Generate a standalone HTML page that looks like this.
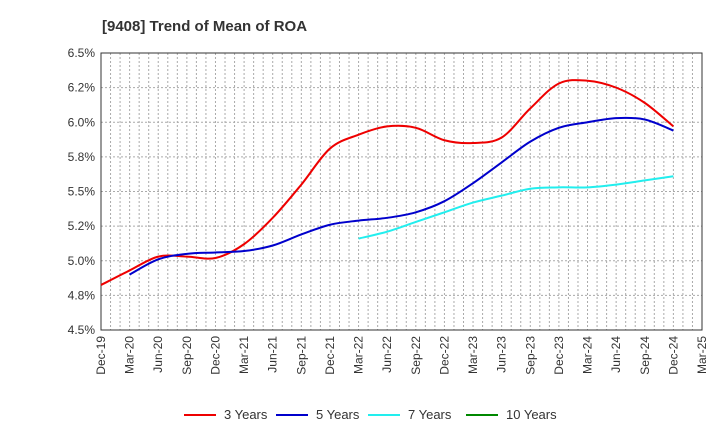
<!DOCTYPE html>
<html><head><meta charset="utf-8"><style>
body{margin:0;background:#fff;font-family:"Liberation Sans",sans-serif;}
</style></head><body>
<svg width="720" height="440" xmlns="http://www.w3.org/2000/svg" font-family="Liberation Sans, sans-serif">
<text x="102" y="31" font-size="15" font-weight="bold" fill="#333">[9408]  Trend of Mean of ROA</text>
<g id="grid"></g>
<g id="axes"></g>
<g id="series"></g>
<g id="legend"></g>
</svg>
<script>
const xLabels=["Dec-19","Mar-20","Jun-20","Sep-20","Dec-20","Mar-21","Jun-21","Sep-21","Dec-21","Mar-22","Jun-22","Sep-22","Dec-22","Mar-23","Jun-23","Sep-23","Dec-23","Mar-24","Jun-24","Sep-24","Dec-24","Mar-25"];
const yTicks=[4.5,4.75,5.0,5.25,5.5,5.75,6.0,6.25,6.5];
const yTickLabels=["4.5%","4.8%","5.0%","5.2%","5.5%","5.8%","6.0%","6.2%","6.5%"];
const seriesNames=["3 Years","5 Years","7 Years","10 Years"];
const seriesColors=["#e00","#00c","#2ee","#080"];
const y3=[4.825,4.93,5.03,5.03,5.02,5.12,5.31,5.55,5.81,5.91,5.97,5.96,5.87,5.85,5.89,6.10,6.28,6.30,6.25,6.14,5.97];
const y5=[null,4.90,5.01,5.05,5.06,5.07,5.11,5.19,5.26,5.29,5.31,5.35,5.43,5.56,5.71,5.86,5.96,6.00,6.03,6.02,5.94];
const y7=[null,null,null,null,null,null,null,null,null,5.16,5.21,5.28,5.35,5.42,5.47,5.52,5.53,5.53,5.55,5.58,5.61];
const y10=[];
const L=101,R=702,T=53,B=330,NS="http://www.w3.org/2000/svg";
const xS=i=>L+(R-L)*i/(xLabels.length-1);
const yS=v=>B-(B-T)*(v-4.5)/2.0;
function mk(p,t,a){const e=document.createElementNS(NS,t);for(const k in a)e.setAttribute(k,a[k]);p.appendChild(e);return e;}
const g=document.getElementById('grid'),ax=document.getElementById('axes'),sg=document.getElementById('series'),lg=document.getElementById('legend');
for(let m=1;m<(xLabels.length-1)*3;m++){const x=L+(R-L)*m/((xLabels.length-1)*3);
const l=mk(g,'line',{x1:x,x2:x,y1:T,y2:B,stroke:'#aaa','stroke-dasharray':'2,2','stroke-width':1});
}
yTicks.forEach((v,i)=>{const y=yS(v);
if(i>0&&i<yTicks.length-1){const l=mk(g,'line',{x1:L,x2:R,y1:y,y2:y,stroke:'#aaa','stroke-dasharray':'2,2'});
}
const t=mk(ax,'text',{x:L-6,y:y+4,'font-size':12,'text-anchor':'end',fill:'#333'});t.textContent=yTickLabels[i];
});
xLabels.forEach((s,i)=>{const x=xS(i);
const t=mk(ax,'text',{x:x+4,y:B+6,'font-size':12,'text-anchor':'end',fill:'#333',transform:`rotate(-90 ${x+4} ${B+6})`});t.textContent=s;
});
const fr=mk(ax,'rect',{x:L,y:T,width:R-L,height:B-T,fill:'none',stroke:'#333','stroke-width':1});

function path(pts){let d=`M${pts[0][0]},${pts[0][1]}`;for(let i=0;i<pts.length-1;i++){const p0=pts[i-1]||pts[i],p1=pts[i],p2=pts[i+1],p3=pts[i+2]||p2;
d+=`C${p1[0]+(p2[0]-p0[0])/6},${p1[1]+(p2[1]-p0[1])/6} ${p2[0]-(p3[0]-p1[0])/6},${p2[1]-(p3[1]-p1[1])/6} ${p2[0]},${p2[1]}`;}return d;}
[y3,y5,y7,y10].forEach((arr,k)=>{const pts=[];arr.forEach((v,i)=>{if(v!=null)pts.push([xS(i),yS(v)]);});
if(pts.length>1){const p=mk(sg,'path',{d:path(pts),fill:'none',stroke:seriesColors[k],'stroke-width':2});
}});
const lx=[184,276,368,466];
seriesNames.forEach((n,k)=>{const gg=mk(lg,'g',{});

mk(gg,'line',{x1:lx[k],x2:lx[k]+32,y1:415,y2:415,stroke:seriesColors[k],'stroke-width':2});
const t=mk(gg,'text',{x:lx[k]+40,y:419,'font-size':13,fill:'#333'});t.textContent=n;});
</script>
</body></html>
